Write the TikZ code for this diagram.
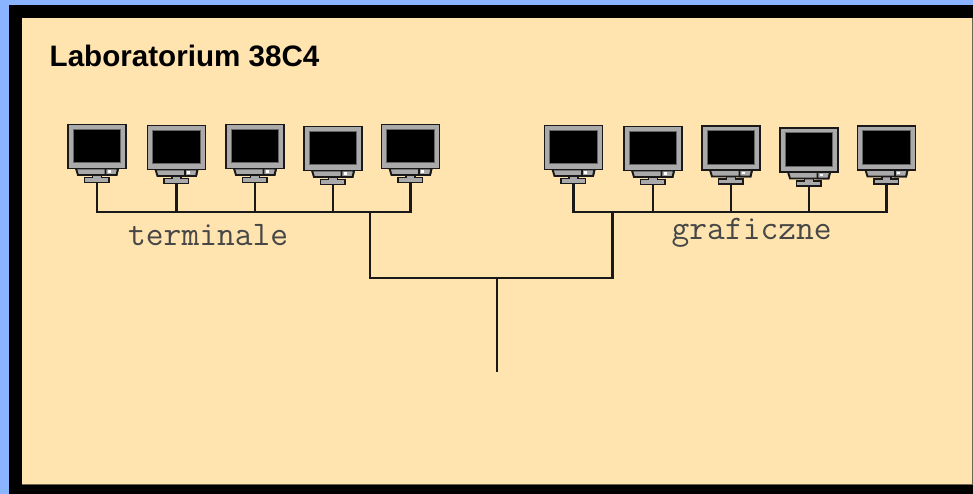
\documentclass[tikz,border=0pt]{standalone}
\usepackage{fontspec}
\setmainfont{Liberation Sans}
\usetikzlibrary{calc}
\definecolor{bluebg}{RGB}{138,180,255}
\definecolor{beige}{RGB}{255,228,176}
\definecolor{mongray}{RGB}{170,170,170}
\definecolor{edgeline}{RGB}{110,100,80}
\tikzset{x=1pt,y=-1pt,
 wire/.style={draw=black!90,line width=2.3pt},
 mon/.style={draw=black!90,line width=1.9pt,fill=mongray,line join=miter},
 pics/monitor/.style={code={
   % origin = top-left of the case
   \draw[mon] (24.5,50) -- (33.5,50) -- (33.5,53) -- (41,53) -- (41,58) -- (16.5,58) -- (16.5,53) -- (24.5,53) -- cycle;
   \draw[mon] (8,44) -- (50,44) -- (48.5,50.5) -- (10,50.5) -- cycle;
   \draw[mon] (37.5,44) -- (50,44) -- (48.5,50.5) -- (37.5,50.5) -- cycle;
   \fill[white] (39.8,45.8) rectangle (42.5,48.5);
   \draw[mon] (0,0) rectangle (58,44);
   \fill[black!60] (4.5,4.5) rectangle (53,39);
   \fill[black] (5.5,5.5) rectangle (52,38);
 }},
 lbl/.style={inner sep=0pt,font=\ttfamily\fontsize{34.5}{37}\selectfont,text=black!72}
}
\begin{document}
\begin{tikzpicture}
\useasboundingbox (0,0) rectangle (973,494);
\fill[bluebg] (0,0) rectangle (973,494);
\fill[black] (8.5,5.3) rectangle (973,494);
\fill[edgeline] (22,18.3) rectangle (973,485.3);
\fill[beige] (22,18.3) rectangle (971.5,484.3);
\node[anchor=base west,inner sep=0pt,font=\bfseries\fontsize{29.6}{32}\selectfont,text=black] (title) at (49.5,67) {Laboratorium 38C4};
% monitors
\path (68,124.5) pic {monitor} ++(29,58) coordinate (a1);
\path (147.5,125.5) pic {monitor} ++(29,58) coordinate (a2);
\path (226,124.5) pic {monitor} ++(29,58) coordinate (a3);
\path (304,126.5) pic {monitor} ++(29,58) coordinate (a4);
\path (381.5,124.5) pic {monitor} ++(29,58) coordinate (a5);
\path (544.5,125.5) pic {monitor} ++(29,58) coordinate (b1);
\path (624,126.5) pic {monitor} ++(29,58) coordinate (b2);
\path (702,126) pic {monitor} ++(29,58) coordinate (b3);
\path (780,128) pic {monitor} ++(29,58) coordinate (b4);
\path (857.5,126) pic {monitor} ++(29,58) coordinate (b5);
% junctions
\coordinate (ja) at (370,212);
\coordinate (jb) at (612.5,212);
\coordinate (ca) at (370,278);
\coordinate (cb) at (612.5,278);
\coordinate (cm) at (497,278);
\coordinate (tail) at (497,372);
\draw[wire] (a1) |- (ja) -| (a5);
\draw[wire] (a2) -- (a2 |- ja);
\draw[wire] (a3) -- (a3 |- ja);
\draw[wire] (a4) -- (a4 |- ja);
\draw[wire] (b1) |- (jb) -| (b5);
\draw[wire] (b2) -- (b2 |- jb);
\draw[wire] (b3) -- (b3 |- jb);
\draw[wire] (b4) -- (b4 |- jb);
\draw[wire] (ja) -- (ca) -- (cb) -- (jb);
\draw[wire] (cm) -- (tail);
\node[lbl,anchor=base west] (terminale) at (128,245.5) {terminale};
\node[lbl,anchor=base west] (graficzne) at (671.5,239) {graficzne};
\end{tikzpicture}
\end{document}
